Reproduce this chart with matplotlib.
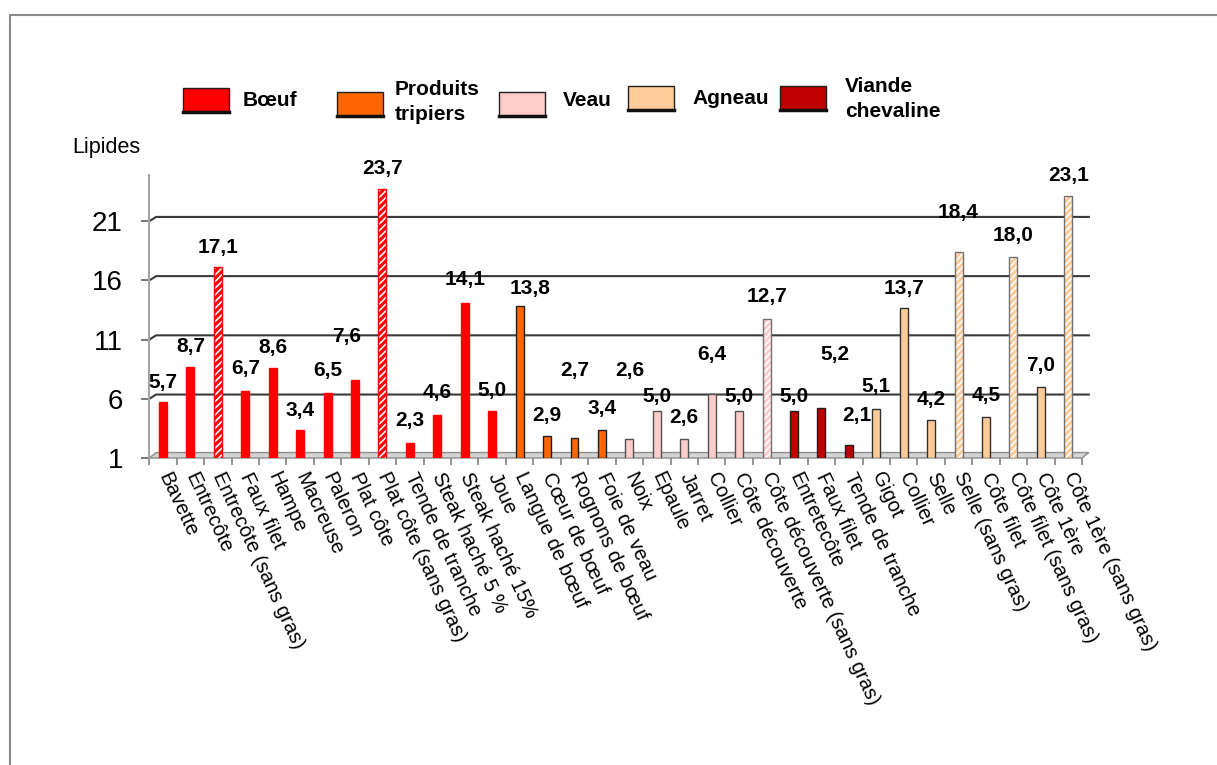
import matplotlib
matplotlib.use("Agg")
import matplotlib.pyplot as plt
from matplotlib.patches import Rectangle, Polygon
from matplotlib.lines import Line2D

plt.rcParams['font.family'] = ['Liberation Sans', 'DejaVu Sans']
plt.rcParams['hatch.linewidth'] = 2.2

# ---- data -------------------------------------------------------------
categories = [
    "Bavette", "Entrecôte", "Entrecôte (sans gras)", "Faux filet", "Hampe",
    "Macreuse", "Paleron", "Plat côte", "Plat côte (sans gras)",
    "Tende de tranche", "Steak haché 5 %", "Steak haché 15%", "Joue",
    "Langue de bœuf", "Cœur de bœuf", "Rognons de bœuf", "Foie de veau",
    "Noix", "Epaule", "Jarret", "Collier", "Côte découverte",
    "Côte découverte (sans gras)", "Entretecôte", "Faux filet",
    "Tende de tranche", "Gigot", "Collier", "Selle", "Selle (sans gras)",
    "Côte filet", "Côte filet (sans gras)", "Côte 1ère", "Côte 1ère (sans gras)",
]
lipides = [
    5.7, 8.7, 17.1, 6.7, 8.6, 3.4, 6.5, 7.6, 23.7, 2.3, 4.6, 14.1, 5.0,
    13.8, 2.9, 2.7, 3.4,
    2.6, 5.0, 2.6, 6.4, 5.0, 12.7,
    5.0, 5.2, 2.1,
    5.1, 13.7, 4.2, 18.4, 4.5, 18.0, 7.0, 23.1,
]
groupe = (["Bœuf"] * 13 + ["Produits tripiers"] * 4 + ["Veau"] * 6
          + ["Viande chevaline"] * 3 + ["Agneau"] * 8)
sans_gras = [c.endswith("(sans gras)") for c in categories]

legend_order = ["Bœuf", "Produits tripiers", "Veau", "Agneau", "Viande chevaline"]
legend_text = ["Bœuf", "Produits\ntripiers", "Veau", "Agneau", "Viande\nchevaline"]

# ---- style ------------------------------------------------------------
colors = {
    "Bœuf": "#FF0000",
    "Produits tripiers": "#FF6600",
    "Veau": "#FFCCCC",
    "Agneau": "#FFCC99",
    "Viande chevaline": "#C00000",
}
outline = {
    "Bœuf": "#FF0000",
    "Produits tripiers": "#202020",
    "Veau": "#505050",
    "Agneau": "#303030",
    "Viande chevaline": "#202020",
}
# value-label shifts (x in slots, y in data units above the bar top)
label_dx = [0, 0, 0, 0, 0, 0, 0, -0.3, 0, 0, 0, 0, 0,
            0.37, 0, 0, 0,
            0, 0, 0, 0, 0, 0,
            0, 0.5, 0.3,
            0, 0, 0, 0, 0, 0, 0, 0]
label_dy = [1.7, 1.75, 1.7, 1.9, 1.77, 1.65, 1.9, 3.7, 1.77, 1.9, 1.97, 2.0, 1.74,
            1.55, 1.73, 5.7, 1.8,
            5.8, 1.2, 1.86, 3.3, 1.2, 1.9,
            1.2, 4.5, 2.5,
            1.9, 1.65, 1.7, 3.36, 1.8, 1.8, 1.85, 1.8]

W, H = 1217, 765
fig = plt.figure(figsize=(W / 100, H / 100), dpi=100)


def fx(px):
    return px / W


def fy(py):
    return 1 - py / H


ax = fig.add_axes([fx(149.3), fy(458), fx(1082) - fx(149.3), fy(175) - fy(458)])
n = len(categories)
ymin, ymax = 1, 24.9
ax.set_xlim(-0.5, n - 0.5)
ax.set_ylim(ymin, ymax)

# depth offset of the back wall (in data units)
dx_back, dy_back = 0.25, 0.36

# floor
floor = Polygon([(-0.5, ymin), (n - 0.5, ymin), (n - 0.5 + dx_back, ymin + dy_back + 0.1),
                 (-0.5 + dx_back, ymin + dy_back + 0.1)],
                closed=True, facecolor="#D4D4D4", edgecolor="#8C8C8C", lw=1.0,
                clip_on=False, zorder=1)
ax.add_patch(floor)

# gridlines on the back wall
for v in [6, 11, 16, 21]:
    ax.add_line(Line2D([-0.5, -0.5 + dx_back, n - 0.5 + dx_back],
                       [v, v + dy_back, v + dy_back],
                       color="#3A3A3A", lw=1.5, clip_on=False, zorder=1.5))

# bars
width = 0.29
for i, (val, g, sg) in enumerate(zip(lipides, groupe, sans_gras)):
    c = colors[g]
    if sg:
        ax.bar(i, val - ymin, bottom=ymin, width=width, color="white",
               edgecolor=c, hatch="/////", lw=0, zorder=3)
        ax.bar(i, val - ymin, bottom=ymin, width=width, fill=False,
               edgecolor=(c if g == "Bœuf" else "#707070"), lw=1.0, zorder=4)
    else:
        ax.bar(i, val - ymin, bottom=ymin, width=width, color=c,
               edgecolor=outline[g], lw=1.0, zorder=3)
    ax.text(i + label_dx[i], val + label_dy[i], f"{val:.1f}".replace(".", ","),
            ha="center", va="center", fontsize=15, fontweight="bold",
            family=["Liberation Sans Narrow", "Liberation Sans", "DejaVu Sans"],
            zorder=5)

# axes styling
for s in ["top", "right", "bottom"]:
    ax.spines[s].set_visible(False)
ax.spines["left"].set_color("#A6A6A6")
ax.spines["left"].set_linewidth(1.5)
ax.set_yticks([1, 6, 11, 16, 21])
ax.set_yticklabels(["1", "6", "11", "16", "21"])
ax.tick_params(axis="y", length=6, width=1.2, color="#606060", labelsize=20, pad=13)

ax.set_xticks(range(n))
ax.set_xticklabels(categories, rotation=-65, rotation_mode="anchor",
                   ha="left", va="center", fontsize=14.5)
ax.tick_params(axis="x", which="major", length=0, pad=11)
ax.set_xticks([k + 0.5 for k in range(-1, n)], minor=True)
ax.tick_params(axis="x", which="minor", length=5, width=1.2, color="#808080")

fig.text(fx(106), fy(148), "Lipides", ha="center", va="center", fontsize=15.5)

# legend
leg_boxes = [(183, 88), (337, 92), (499, 92), (628, 86), (780, 86)]
leg_text = [(243, 101), (395, 102), (563, 101), (692, 98), (845, 99)]
for key, lab, (bx, by), (tx, ty) in zip(legend_order, legend_text, leg_boxes, leg_text):
    fig.patches.append(Rectangle((fx(bx), fy(by + 24)), fx(46), 24 / H,
                                 transform=fig.transFigure, facecolor=colors[key],
                                 edgecolor="#202020", lw=1.0))
    fig.lines.append(Line2D([fx(bx), fx(bx + 46)], [fy(by + 24), fy(by + 24)],
                            transform=fig.transFigure, color="#101010", lw=2.5))
    fig.text(fx(tx), fy(ty), lab, ha="left", va="center", fontsize=15,
             fontweight="bold", linespacing=1.35,
             family=["Liberation Sans Narrow", "Liberation Sans", "DejaVu Sans"])

# outer frame
fig.lines.append(Line2D([fx(10), fx(10), 1], [0, fy(15), fy(15)],
                        transform=fig.transFigure, color="#8A8A8A", lw=1.5))

fig.savefig("out.png", dpi=100, facecolor="white")
